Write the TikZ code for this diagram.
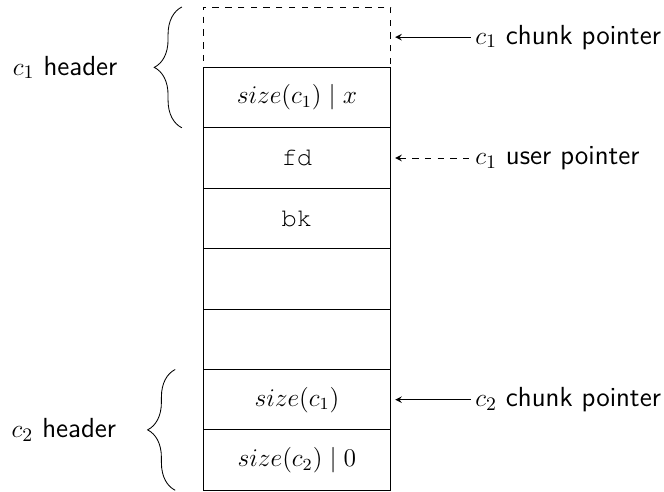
\documentclass[tikz,border=0pt,12pt]{standalone}
\usepackage[T1,TU]{fontenc}
\usetikzlibrary{positioning,decorations.pathreplacing}

\newcommand{\fieldname}[1]{{\fontencoding{T1}\fontfamily{pcr}\selectfont #1}}

\begin{document}
\begin{tikzpicture}[cell/.style={draw, minimum width=3.11cm, minimum height=1cm, inner sep=0pt, outer sep=0pt},
    lbl/.style={font=\sffamily\fontsize{13}{15}\selectfont, anchor=west, inner sep=2pt},
    hdr/.style={font=\sffamily\fontsize{13}{15}\selectfont, anchor=east, inner sep=2pt},
    hbrace/.style={decorate, decoration={brace, amplitude=13pt}}]
  \useasboundingbox (0,0) rectangle (10.99,-8.13);

  % memory cells, top to bottom
  \node[cell, dashed, anchor=north west] (r0) at (3.36,-0.115) {};
  \node[cell, below=0cm of r0] (r1) {$size(c_1) \mid x$};
  \node[cell, below=0cm of r1] (r2) {\fieldname{fd}};
  \node[cell, below=0cm of r2] (r3) {\fieldname{bk}};
  \node[cell, below=0cm of r3] (r4) {};
  \node[cell, below=0cm of r4] (r5) {};
  \node[cell, below=0cm of r5] (r6) {$size(c_1)$};
  \node[cell, below=0cm of r6] (r7) {$size(c_2) \mid 0$};

  % pointers
  \node[lbl] (cptr1) at ([xshift=1.32cm]r0.east) {$c_1$ chunk pointer};
  \node[lbl] (uptr1) at ([xshift=1.32cm]r2.east) {$c_1$ user pointer};
  \node[lbl] (cptr2) at ([xshift=1.32cm]r6.east) {$c_2$ chunk pointer};
  \draw[<-,>=stealth] ([xshift=2pt]r0.east) -- (cptr1.west);
  \draw[<-,>=stealth,dashed] ([xshift=2pt]r2.east) -- (uptr1.west);
  \draw[<-,>=stealth] ([xshift=2pt]r6.east) -- (cptr2.west);

  % headers
  \draw[hbrace] ([xshift=-0.35cm]r1.south west) -- ([xshift=-0.35cm]r0.north west);
  \draw[hbrace] ([xshift=-0.46cm]r7.south west) -- ([xshift=-0.46cm]r6.north west);
  \node[hdr] (h1) at ([xshift=-1.34cm]r0.south west) {$c_1$ header};
  \node[hdr] (h2) at ([xshift=-1.36cm]r6.south west) {$c_2$ header};
\end{tikzpicture}
\end{document}
